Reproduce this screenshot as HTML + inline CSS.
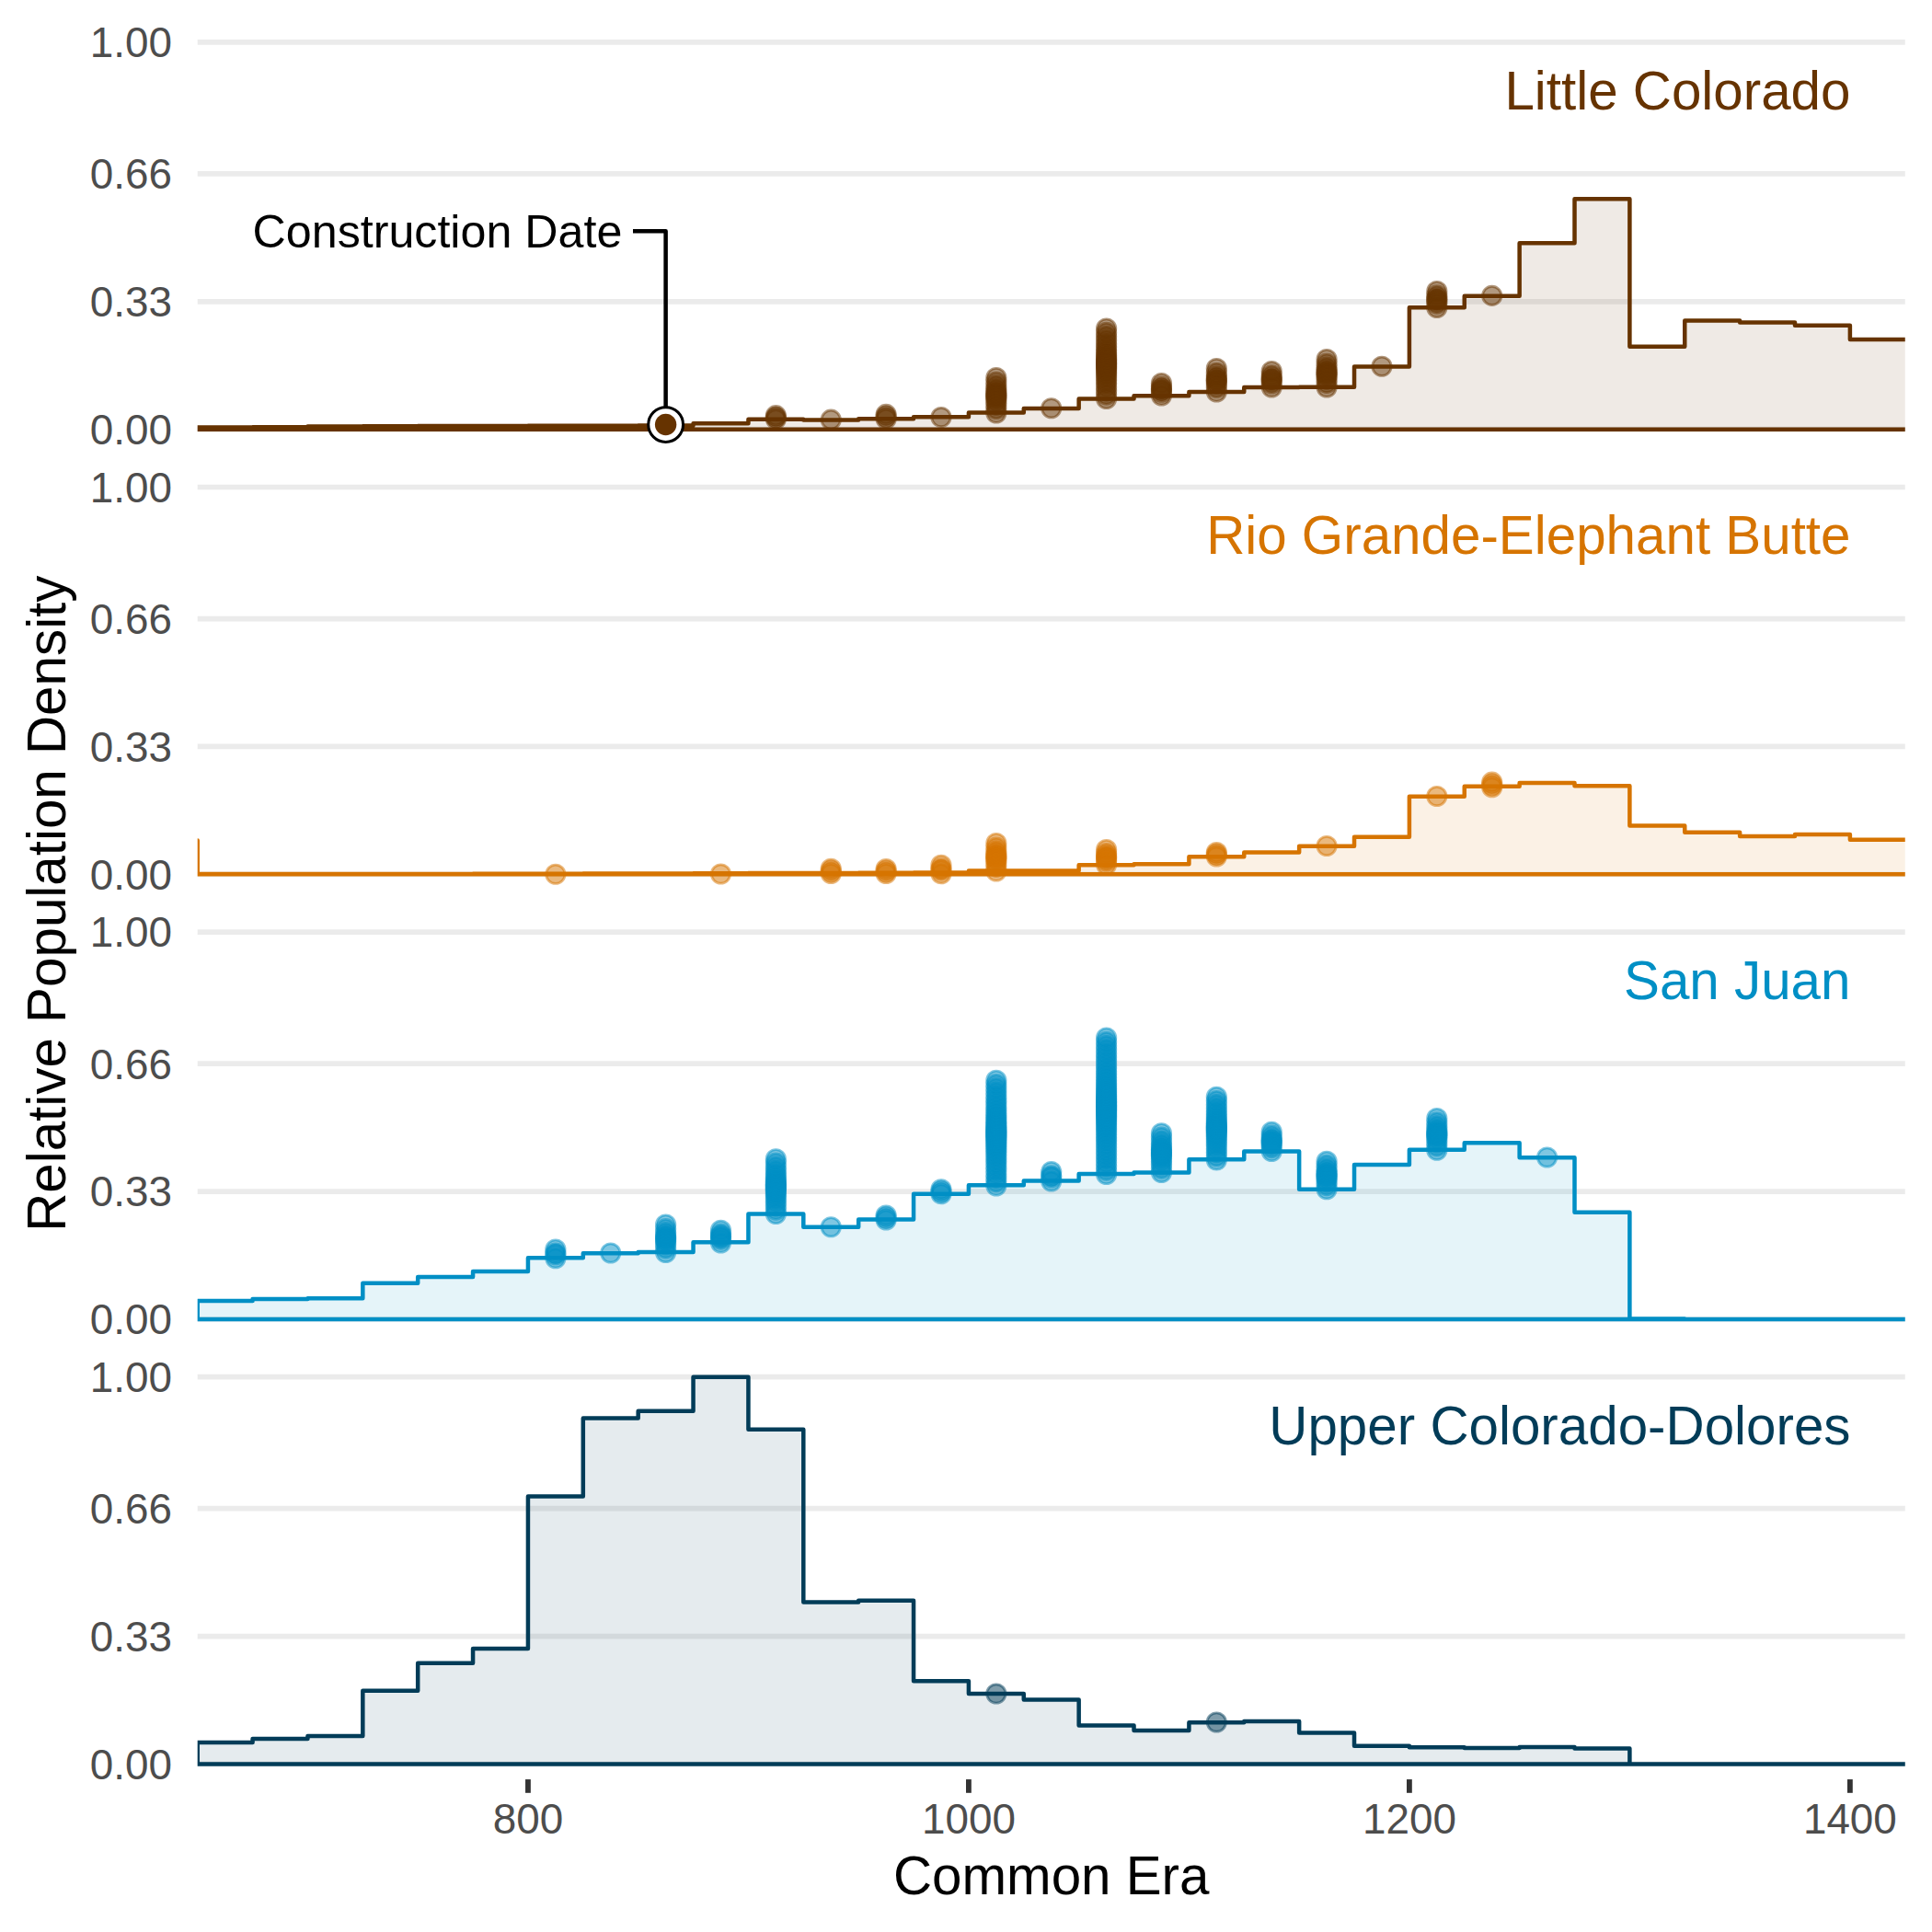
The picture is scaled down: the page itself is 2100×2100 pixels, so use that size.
<!DOCTYPE html>
<html lang="en"><head><meta charset="utf-8"><title>Relative Population Density</title>
<style>html,body{margin:0;padding:0;background:#fff}svg{display:block}text{font-family:"Liberation Sans", Arial, Helvetica, sans-serif}</style></head><body>
<svg width="2100" height="2100" viewBox="0 0 2100 2100">
<rect width="2100" height="2100" fill="#fff"/>
<defs><clipPath id="cp"><rect x="214.70" y="0" width="1856.05" height="2100"/></clipPath></defs>
<g>
<line x1="214.70" x2="2070.75" y1="45.90" y2="45.90" stroke="#EBEBEB" stroke-width="5.70"/>
<line x1="214.70" x2="2070.75" y1="188.97" y2="188.97" stroke="#EBEBEB" stroke-width="5.70"/>
<line x1="214.70" x2="2070.75" y1="327.84" y2="327.84" stroke="#EBEBEB" stroke-width="5.70"/>
<line x1="214.70" x2="2070.75" y1="466.70" y2="466.70" stroke="#EBEBEB" stroke-width="5.70"/>
<g fill="#663300" fill-opacity="0.5" stroke="#663300" stroke-opacity="0.5" stroke-width="2.90">
<circle cx="843.36" cy="451.70" r="10.15"/>
<circle cx="843.36" cy="453.65" r="10.15"/>
<circle cx="843.36" cy="455.60" r="10.15"/>
<circle cx="903.23" cy="456.20" r="10.15"/>
<circle cx="963.11" cy="450.40" r="10.15"/>
<circle cx="963.11" cy="452.80" r="10.15"/>
<circle cx="963.11" cy="455.20" r="10.15"/>
<circle cx="1022.98" cy="453.50" r="10.15"/>
<circle cx="1082.85" cy="410.50" r="10.15"/>
<circle cx="1082.85" cy="415.03" r="10.15"/>
<circle cx="1082.85" cy="419.20" r="10.15"/>
<circle cx="1082.85" cy="422.73" r="10.15"/>
<circle cx="1082.85" cy="425.50" r="10.15"/>
<circle cx="1082.85" cy="427.54" r="10.15"/>
<circle cx="1082.85" cy="429.08" r="10.15"/>
<circle cx="1082.85" cy="430.42" r="10.15"/>
<circle cx="1082.85" cy="431.96" r="10.15"/>
<circle cx="1082.85" cy="434.00" r="10.15"/>
<circle cx="1082.85" cy="436.77" r="10.15"/>
<circle cx="1082.85" cy="440.30" r="10.15"/>
<circle cx="1082.85" cy="444.47" r="10.15"/>
<circle cx="1082.85" cy="449.00" r="10.15"/>
<circle cx="1142.72" cy="443.75" r="10.15"/>
<circle cx="1202.60" cy="357.00" r="10.15"/>
<circle cx="1202.60" cy="361.38" r="10.15"/>
<circle cx="1202.60" cy="365.67" r="10.15"/>
<circle cx="1202.60" cy="369.80" r="10.15"/>
<circle cx="1202.60" cy="373.70" r="10.15"/>
<circle cx="1202.60" cy="377.32" r="10.15"/>
<circle cx="1202.60" cy="380.59" r="10.15"/>
<circle cx="1202.60" cy="383.52" r="10.15"/>
<circle cx="1202.60" cy="386.08" r="10.15"/>
<circle cx="1202.60" cy="388.30" r="10.15"/>
<circle cx="1202.60" cy="390.20" r="10.15"/>
<circle cx="1202.60" cy="391.85" r="10.15"/>
<circle cx="1202.60" cy="393.29" r="10.15"/>
<circle cx="1202.60" cy="394.61" r="10.15"/>
<circle cx="1202.60" cy="395.89" r="10.15"/>
<circle cx="1202.60" cy="397.21" r="10.15"/>
<circle cx="1202.60" cy="398.65" r="10.15"/>
<circle cx="1202.60" cy="400.30" r="10.15"/>
<circle cx="1202.60" cy="402.20" r="10.15"/>
<circle cx="1202.60" cy="404.42" r="10.15"/>
<circle cx="1202.60" cy="406.98" r="10.15"/>
<circle cx="1202.60" cy="409.91" r="10.15"/>
<circle cx="1202.60" cy="413.18" r="10.15"/>
<circle cx="1202.60" cy="416.80" r="10.15"/>
<circle cx="1202.60" cy="420.70" r="10.15"/>
<circle cx="1202.60" cy="424.83" r="10.15"/>
<circle cx="1202.60" cy="429.12" r="10.15"/>
<circle cx="1202.60" cy="433.50" r="10.15"/>
<circle cx="1262.47" cy="416.50" r="10.15"/>
<circle cx="1262.47" cy="420.32" r="10.15"/>
<circle cx="1262.47" cy="422.59" r="10.15"/>
<circle cx="1262.47" cy="423.91" r="10.15"/>
<circle cx="1262.47" cy="426.18" r="10.15"/>
<circle cx="1262.47" cy="430.00" r="10.15"/>
<circle cx="1322.34" cy="400.50" r="10.15"/>
<circle cx="1322.34" cy="405.27" r="10.15"/>
<circle cx="1322.34" cy="409.11" r="10.15"/>
<circle cx="1322.34" cy="411.64" r="10.15"/>
<circle cx="1322.34" cy="413.25" r="10.15"/>
<circle cx="1322.34" cy="414.86" r="10.15"/>
<circle cx="1322.34" cy="417.39" r="10.15"/>
<circle cx="1322.34" cy="421.23" r="10.15"/>
<circle cx="1322.34" cy="426.00" r="10.15"/>
<circle cx="1382.22" cy="403.50" r="10.15"/>
<circle cx="1382.22" cy="407.74" r="10.15"/>
<circle cx="1382.22" cy="410.66" r="10.15"/>
<circle cx="1382.22" cy="412.25" r="10.15"/>
<circle cx="1382.22" cy="413.84" r="10.15"/>
<circle cx="1382.22" cy="416.76" r="10.15"/>
<circle cx="1382.22" cy="421.00" r="10.15"/>
<circle cx="1442.09" cy="390.50" r="10.15"/>
<circle cx="1442.09" cy="395.12" r="10.15"/>
<circle cx="1442.09" cy="399.14" r="10.15"/>
<circle cx="1442.09" cy="402.19" r="10.15"/>
<circle cx="1442.09" cy="404.27" r="10.15"/>
<circle cx="1442.09" cy="405.75" r="10.15"/>
<circle cx="1442.09" cy="407.23" r="10.15"/>
<circle cx="1442.09" cy="409.31" r="10.15"/>
<circle cx="1442.09" cy="412.36" r="10.15"/>
<circle cx="1442.09" cy="416.38" r="10.15"/>
<circle cx="1442.09" cy="421.00" r="10.15"/>
<circle cx="1501.96" cy="398.25" r="10.15"/>
<circle cx="1561.83" cy="316.50" r="10.15"/>
<circle cx="1561.83" cy="320.86" r="10.15"/>
<circle cx="1561.83" cy="323.86" r="10.15"/>
<circle cx="1561.83" cy="325.50" r="10.15"/>
<circle cx="1561.83" cy="327.14" r="10.15"/>
<circle cx="1561.83" cy="330.14" r="10.15"/>
<circle cx="1561.83" cy="334.50" r="10.15"/>
<circle cx="1621.71" cy="321.40" r="10.15"/>
</g>
<path d="M214.70 466.70 L214.70 464.39 H274.57 L274.57 464.26 H334.45 L334.45 463.38 H394.32 L394.32 463.29 H454.19 L454.19 463.12 H514.06 L514.06 463.00 H573.94 L573.94 462.83 H633.81 L633.81 462.66 H693.68 L693.68 462.41 H753.55 L753.55 460.18 H813.43 L813.43 455.76 H873.30 L873.30 456.60 H933.17 L933.17 455.34 H993.04 L993.04 453.23 H1052.92 L1052.92 448.61 H1112.79 L1112.79 443.98 H1172.66 L1172.66 433.46 H1232.53 L1232.53 430.30 H1292.41 L1292.41 426.05 H1352.28 L1352.28 421.04 H1412.15 L1412.15 420.83 H1472.02 L1472.02 398.53 H1531.90 L1531.90 334.15 H1591.77 L1591.77 321.69 H1651.64 L1651.64 264.34 H1711.51 L1711.51 216.20 H1771.39 L1771.39 376.82 H1831.26 L1831.26 348.46 H1891.13 L1891.13 350.43 H1951.00 L1951.00 353.63 H2010.88 L2010.88 369.07 H2070.75 H2090.75 V466.70 Z" fill="#663300" fill-opacity="0.1" stroke="#663300" stroke-width="4.50" stroke-linejoin="round" clip-path="url(#cp)"/>
<text x="187" y="62.20" font-size="45.83" fill="#4D4D4D" text-anchor="end">1.00</text>
<text x="187" y="205.27" font-size="45.83" fill="#4D4D4D" text-anchor="end">0.66</text>
<text x="187" y="344.14" font-size="45.83" fill="#4D4D4D" text-anchor="end">0.33</text>
<text x="187" y="483.00" font-size="45.83" fill="#4D4D4D" text-anchor="end">0.00</text>
<text x="2011.5" y="118.75" font-size="58.33" fill="#663300" text-anchor="end">Little Colorado</text>
</g>
<g>
<line x1="214.70" x2="2070.75" y1="529.50" y2="529.50" stroke="#EBEBEB" stroke-width="5.70"/>
<line x1="214.70" x2="2070.75" y1="672.57" y2="672.57" stroke="#EBEBEB" stroke-width="5.70"/>
<line x1="214.70" x2="2070.75" y1="811.44" y2="811.44" stroke="#EBEBEB" stroke-width="5.70"/>
<line x1="214.70" x2="2070.75" y1="950.30" y2="950.30" stroke="#EBEBEB" stroke-width="5.70"/>
<g fill="#D67400" fill-opacity="0.5" stroke="#D67400" stroke-opacity="0.5" stroke-width="2.90">
<circle cx="603.87" cy="950.25" r="10.15"/>
<circle cx="783.49" cy="950.00" r="10.15"/>
<circle cx="903.23" cy="944.25" r="10.15"/>
<circle cx="903.23" cy="946.88" r="10.15"/>
<circle cx="903.23" cy="949.50" r="10.15"/>
<circle cx="963.11" cy="944.50" r="10.15"/>
<circle cx="963.11" cy="947.00" r="10.15"/>
<circle cx="963.11" cy="949.50" r="10.15"/>
<circle cx="1022.98" cy="940.25" r="10.15"/>
<circle cx="1022.98" cy="944.14" r="10.15"/>
<circle cx="1022.98" cy="945.86" r="10.15"/>
<circle cx="1022.98" cy="949.75" r="10.15"/>
<circle cx="1082.85" cy="916.50" r="10.15"/>
<circle cx="1082.85" cy="921.12" r="10.15"/>
<circle cx="1082.85" cy="925.14" r="10.15"/>
<circle cx="1082.85" cy="928.19" r="10.15"/>
<circle cx="1082.85" cy="930.27" r="10.15"/>
<circle cx="1082.85" cy="931.75" r="10.15"/>
<circle cx="1082.85" cy="933.23" r="10.15"/>
<circle cx="1082.85" cy="935.31" r="10.15"/>
<circle cx="1082.85" cy="938.36" r="10.15"/>
<circle cx="1082.85" cy="942.38" r="10.15"/>
<circle cx="1082.85" cy="947.00" r="10.15"/>
<circle cx="1202.60" cy="923.50" r="10.15"/>
<circle cx="1202.60" cy="927.50" r="10.15"/>
<circle cx="1202.60" cy="930.25" r="10.15"/>
<circle cx="1202.60" cy="931.75" r="10.15"/>
<circle cx="1202.60" cy="933.25" r="10.15"/>
<circle cx="1202.60" cy="936.00" r="10.15"/>
<circle cx="1202.60" cy="940.00" r="10.15"/>
<circle cx="1322.34" cy="926.50" r="10.15"/>
<circle cx="1322.34" cy="928.75" r="10.15"/>
<circle cx="1322.34" cy="931.00" r="10.15"/>
<circle cx="1442.09" cy="919.50" r="10.15"/>
<circle cx="1561.83" cy="865.50" r="10.15"/>
<circle cx="1621.71" cy="850.20" r="10.15"/>
<circle cx="1621.71" cy="852.95" r="10.15"/>
<circle cx="1621.71" cy="855.70" r="10.15"/>
</g>
<path d="M214.70 950.30 V913.61 V950.30 L214.70 950.09 H274.57 L274.57 950.09 H334.45 L334.45 949.88 H394.32 L394.32 949.88 H454.19 L454.19 949.88 H514.06 L514.06 949.67 H573.94 L573.94 949.67 H633.81 L633.81 949.46 H693.68 L693.68 949.46 H753.55 L753.55 949.25 H813.43 L813.43 949.04 H873.30 L873.30 949.04 H933.17 L933.17 948.83 H993.04 L993.04 948.62 H1052.92 L1052.92 946.51 H1112.79 L1112.79 946.51 H1172.66 L1172.66 940.28 H1232.53 L1232.53 939.36 H1292.41 L1292.41 931.36 H1352.28 L1352.28 926.57 H1412.15 L1412.15 919.79 H1472.02 L1472.02 909.82 H1531.90 L1531.90 865.85 H1591.77 L1591.77 854.78 H1651.64 L1651.64 851.12 H1711.51 L1711.51 854.36 H1771.39 L1771.39 897.41 H1831.26 L1831.26 904.69 H1891.13 L1891.13 908.98 H1951.00 L1951.00 907.08 H2010.88 L2010.88 912.72 H2070.75 H2090.75 V950.30 Z" fill="#D67400" fill-opacity="0.1" stroke="#D67400" stroke-width="4.50" stroke-linejoin="round" clip-path="url(#cp)"/>
<text x="187" y="545.80" font-size="45.83" fill="#4D4D4D" text-anchor="end">1.00</text>
<text x="187" y="688.87" font-size="45.83" fill="#4D4D4D" text-anchor="end">0.66</text>
<text x="187" y="827.74" font-size="45.83" fill="#4D4D4D" text-anchor="end">0.33</text>
<text x="187" y="966.60" font-size="45.83" fill="#4D4D4D" text-anchor="end">0.00</text>
<text x="2011.5" y="602.35" font-size="58.33" fill="#D67400" text-anchor="end">Rio Grande-Elephant Butte</text>
</g>
<g>
<line x1="214.70" x2="2070.75" y1="1013.15" y2="1013.15" stroke="#EBEBEB" stroke-width="5.70"/>
<line x1="214.70" x2="2070.75" y1="1156.22" y2="1156.22" stroke="#EBEBEB" stroke-width="5.70"/>
<line x1="214.70" x2="2070.75" y1="1295.09" y2="1295.09" stroke="#EBEBEB" stroke-width="5.70"/>
<line x1="214.70" x2="2070.75" y1="1433.95" y2="1433.95" stroke="#EBEBEB" stroke-width="5.70"/>
<g fill="#008FC5" fill-opacity="0.5" stroke="#008FC5" stroke-opacity="0.5" stroke-width="2.90">
<circle cx="603.87" cy="1358.00" r="10.15"/>
<circle cx="603.87" cy="1361.99" r="10.15"/>
<circle cx="603.87" cy="1363.76" r="10.15"/>
<circle cx="603.87" cy="1367.75" r="10.15"/>
<circle cx="663.74" cy="1362.00" r="10.15"/>
<circle cx="723.62" cy="1331.00" r="10.15"/>
<circle cx="723.62" cy="1335.62" r="10.15"/>
<circle cx="723.62" cy="1339.64" r="10.15"/>
<circle cx="723.62" cy="1342.69" r="10.15"/>
<circle cx="723.62" cy="1344.77" r="10.15"/>
<circle cx="723.62" cy="1346.25" r="10.15"/>
<circle cx="723.62" cy="1347.73" r="10.15"/>
<circle cx="723.62" cy="1349.81" r="10.15"/>
<circle cx="723.62" cy="1352.86" r="10.15"/>
<circle cx="723.62" cy="1356.88" r="10.15"/>
<circle cx="723.62" cy="1361.50" r="10.15"/>
<circle cx="783.49" cy="1337.25" r="10.15"/>
<circle cx="783.49" cy="1341.14" r="10.15"/>
<circle cx="783.49" cy="1343.46" r="10.15"/>
<circle cx="783.49" cy="1344.79" r="10.15"/>
<circle cx="783.49" cy="1347.11" r="10.15"/>
<circle cx="783.49" cy="1351.00" r="10.15"/>
<circle cx="843.36" cy="1259.75" r="10.15"/>
<circle cx="843.36" cy="1264.14" r="10.15"/>
<circle cx="843.36" cy="1268.39" r="10.15"/>
<circle cx="843.36" cy="1272.37" r="10.15"/>
<circle cx="843.36" cy="1276.00" r="10.15"/>
<circle cx="843.36" cy="1279.19" r="10.15"/>
<circle cx="843.36" cy="1281.92" r="10.15"/>
<circle cx="843.36" cy="1284.20" r="10.15"/>
<circle cx="843.36" cy="1286.07" r="10.15"/>
<circle cx="843.36" cy="1287.63" r="10.15"/>
<circle cx="843.36" cy="1288.98" r="10.15"/>
<circle cx="843.36" cy="1290.27" r="10.15"/>
<circle cx="843.36" cy="1291.62" r="10.15"/>
<circle cx="843.36" cy="1293.18" r="10.15"/>
<circle cx="843.36" cy="1295.05" r="10.15"/>
<circle cx="843.36" cy="1297.33" r="10.15"/>
<circle cx="843.36" cy="1300.06" r="10.15"/>
<circle cx="843.36" cy="1303.25" r="10.15"/>
<circle cx="843.36" cy="1306.88" r="10.15"/>
<circle cx="843.36" cy="1310.86" r="10.15"/>
<circle cx="843.36" cy="1315.11" r="10.15"/>
<circle cx="843.36" cy="1319.50" r="10.15"/>
<circle cx="903.23" cy="1333.75" r="10.15"/>
<circle cx="963.11" cy="1321.00" r="10.15"/>
<circle cx="963.11" cy="1323.50" r="10.15"/>
<circle cx="963.11" cy="1326.00" r="10.15"/>
<circle cx="1022.98" cy="1292.75" r="10.15"/>
<circle cx="1022.98" cy="1295.25" r="10.15"/>
<circle cx="1022.98" cy="1297.75" r="10.15"/>
<circle cx="1082.85" cy="1174.25" r="10.15"/>
<circle cx="1082.85" cy="1178.58" r="10.15"/>
<circle cx="1082.85" cy="1182.88" r="10.15"/>
<circle cx="1082.85" cy="1187.10" r="10.15"/>
<circle cx="1082.85" cy="1191.22" r="10.15"/>
<circle cx="1082.85" cy="1195.21" r="10.15"/>
<circle cx="1082.85" cy="1199.03" r="10.15"/>
<circle cx="1082.85" cy="1202.67" r="10.15"/>
<circle cx="1082.85" cy="1206.09" r="10.15"/>
<circle cx="1082.85" cy="1209.30" r="10.15"/>
<circle cx="1082.85" cy="1212.28" r="10.15"/>
<circle cx="1082.85" cy="1215.01" r="10.15"/>
<circle cx="1082.85" cy="1217.52" r="10.15"/>
<circle cx="1082.85" cy="1219.80" r="10.15"/>
<circle cx="1082.85" cy="1221.86" r="10.15"/>
<circle cx="1082.85" cy="1223.73" r="10.15"/>
<circle cx="1082.85" cy="1225.42" r="10.15"/>
<circle cx="1082.85" cy="1226.96" r="10.15"/>
<circle cx="1082.85" cy="1228.38" r="10.15"/>
<circle cx="1082.85" cy="1229.72" r="10.15"/>
<circle cx="1082.85" cy="1230.99" r="10.15"/>
<circle cx="1082.85" cy="1232.26" r="10.15"/>
<circle cx="1082.85" cy="1233.53" r="10.15"/>
<circle cx="1082.85" cy="1234.87" r="10.15"/>
<circle cx="1082.85" cy="1236.29" r="10.15"/>
<circle cx="1082.85" cy="1237.83" r="10.15"/>
<circle cx="1082.85" cy="1239.52" r="10.15"/>
<circle cx="1082.85" cy="1241.39" r="10.15"/>
<circle cx="1082.85" cy="1243.45" r="10.15"/>
<circle cx="1082.85" cy="1245.73" r="10.15"/>
<circle cx="1082.85" cy="1248.24" r="10.15"/>
<circle cx="1082.85" cy="1250.97" r="10.15"/>
<circle cx="1082.85" cy="1253.95" r="10.15"/>
<circle cx="1082.85" cy="1257.16" r="10.15"/>
<circle cx="1082.85" cy="1260.58" r="10.15"/>
<circle cx="1082.85" cy="1264.22" r="10.15"/>
<circle cx="1082.85" cy="1268.04" r="10.15"/>
<circle cx="1082.85" cy="1272.03" r="10.15"/>
<circle cx="1082.85" cy="1276.15" r="10.15"/>
<circle cx="1082.85" cy="1280.37" r="10.15"/>
<circle cx="1082.85" cy="1284.67" r="10.15"/>
<circle cx="1082.85" cy="1289.00" r="10.15"/>
<circle cx="1142.72" cy="1273.50" r="10.15"/>
<circle cx="1142.72" cy="1277.80" r="10.15"/>
<circle cx="1142.72" cy="1279.70" r="10.15"/>
<circle cx="1142.72" cy="1284.00" r="10.15"/>
<circle cx="1202.60" cy="1128.00" r="10.15"/>
<circle cx="1202.60" cy="1132.34" r="10.15"/>
<circle cx="1202.60" cy="1136.66" r="10.15"/>
<circle cx="1202.60" cy="1140.93" r="10.15"/>
<circle cx="1202.60" cy="1145.14" r="10.15"/>
<circle cx="1202.60" cy="1149.27" r="10.15"/>
<circle cx="1202.60" cy="1153.30" r="10.15"/>
<circle cx="1202.60" cy="1157.20" r="10.15"/>
<circle cx="1202.60" cy="1160.98" r="10.15"/>
<circle cx="1202.60" cy="1164.60" r="10.15"/>
<circle cx="1202.60" cy="1168.06" r="10.15"/>
<circle cx="1202.60" cy="1171.36" r="10.15"/>
<circle cx="1202.60" cy="1174.48" r="10.15"/>
<circle cx="1202.60" cy="1177.42" r="10.15"/>
<circle cx="1202.60" cy="1180.17" r="10.15"/>
<circle cx="1202.60" cy="1182.75" r="10.15"/>
<circle cx="1202.60" cy="1185.14" r="10.15"/>
<circle cx="1202.60" cy="1187.37" r="10.15"/>
<circle cx="1202.60" cy="1189.43" r="10.15"/>
<circle cx="1202.60" cy="1191.33" r="10.15"/>
<circle cx="1202.60" cy="1193.09" r="10.15"/>
<circle cx="1202.60" cy="1194.73" r="10.15"/>
<circle cx="1202.60" cy="1196.25" r="10.15"/>
<circle cx="1202.60" cy="1197.68" r="10.15"/>
<circle cx="1202.60" cy="1199.04" r="10.15"/>
<circle cx="1202.60" cy="1200.35" r="10.15"/>
<circle cx="1202.60" cy="1201.62" r="10.15"/>
<circle cx="1202.60" cy="1202.88" r="10.15"/>
<circle cx="1202.60" cy="1204.15" r="10.15"/>
<circle cx="1202.60" cy="1205.46" r="10.15"/>
<circle cx="1202.60" cy="1206.82" r="10.15"/>
<circle cx="1202.60" cy="1208.25" r="10.15"/>
<circle cx="1202.60" cy="1209.77" r="10.15"/>
<circle cx="1202.60" cy="1211.41" r="10.15"/>
<circle cx="1202.60" cy="1213.17" r="10.15"/>
<circle cx="1202.60" cy="1215.07" r="10.15"/>
<circle cx="1202.60" cy="1217.13" r="10.15"/>
<circle cx="1202.60" cy="1219.36" r="10.15"/>
<circle cx="1202.60" cy="1221.75" r="10.15"/>
<circle cx="1202.60" cy="1224.33" r="10.15"/>
<circle cx="1202.60" cy="1227.08" r="10.15"/>
<circle cx="1202.60" cy="1230.02" r="10.15"/>
<circle cx="1202.60" cy="1233.14" r="10.15"/>
<circle cx="1202.60" cy="1236.44" r="10.15"/>
<circle cx="1202.60" cy="1239.90" r="10.15"/>
<circle cx="1202.60" cy="1243.52" r="10.15"/>
<circle cx="1202.60" cy="1247.30" r="10.15"/>
<circle cx="1202.60" cy="1251.20" r="10.15"/>
<circle cx="1202.60" cy="1255.23" r="10.15"/>
<circle cx="1202.60" cy="1259.36" r="10.15"/>
<circle cx="1202.60" cy="1263.57" r="10.15"/>
<circle cx="1202.60" cy="1267.84" r="10.15"/>
<circle cx="1202.60" cy="1272.16" r="10.15"/>
<circle cx="1202.60" cy="1276.50" r="10.15"/>
<circle cx="1262.47" cy="1231.75" r="10.15"/>
<circle cx="1262.47" cy="1236.12" r="10.15"/>
<circle cx="1262.47" cy="1240.23" r="10.15"/>
<circle cx="1262.47" cy="1243.86" r="10.15"/>
<circle cx="1262.47" cy="1246.87" r="10.15"/>
<circle cx="1262.47" cy="1249.24" r="10.15"/>
<circle cx="1262.47" cy="1251.05" r="10.15"/>
<circle cx="1262.47" cy="1252.48" r="10.15"/>
<circle cx="1262.47" cy="1253.77" r="10.15"/>
<circle cx="1262.47" cy="1255.20" r="10.15"/>
<circle cx="1262.47" cy="1257.01" r="10.15"/>
<circle cx="1262.47" cy="1259.38" r="10.15"/>
<circle cx="1262.47" cy="1262.39" r="10.15"/>
<circle cx="1262.47" cy="1266.02" r="10.15"/>
<circle cx="1262.47" cy="1270.13" r="10.15"/>
<circle cx="1262.47" cy="1274.50" r="10.15"/>
<circle cx="1322.34" cy="1192.25" r="10.15"/>
<circle cx="1322.34" cy="1196.50" r="10.15"/>
<circle cx="1322.34" cy="1200.65" r="10.15"/>
<circle cx="1322.34" cy="1204.62" r="10.15"/>
<circle cx="1322.34" cy="1208.33" r="10.15"/>
<circle cx="1322.34" cy="1211.72" r="10.15"/>
<circle cx="1322.34" cy="1214.76" r="10.15"/>
<circle cx="1322.34" cy="1217.41" r="10.15"/>
<circle cx="1322.34" cy="1219.70" r="10.15"/>
<circle cx="1322.34" cy="1221.64" r="10.15"/>
<circle cx="1322.34" cy="1223.29" r="10.15"/>
<circle cx="1322.34" cy="1224.72" r="10.15"/>
<circle cx="1322.34" cy="1226.00" r="10.15"/>
<circle cx="1322.34" cy="1227.25" r="10.15"/>
<circle cx="1322.34" cy="1228.53" r="10.15"/>
<circle cx="1322.34" cy="1229.96" r="10.15"/>
<circle cx="1322.34" cy="1231.61" r="10.15"/>
<circle cx="1322.34" cy="1233.55" r="10.15"/>
<circle cx="1322.34" cy="1235.84" r="10.15"/>
<circle cx="1322.34" cy="1238.49" r="10.15"/>
<circle cx="1322.34" cy="1241.53" r="10.15"/>
<circle cx="1322.34" cy="1244.92" r="10.15"/>
<circle cx="1322.34" cy="1248.63" r="10.15"/>
<circle cx="1322.34" cy="1252.60" r="10.15"/>
<circle cx="1322.34" cy="1256.75" r="10.15"/>
<circle cx="1322.34" cy="1261.00" r="10.15"/>
<circle cx="1382.22" cy="1230.25" r="10.15"/>
<circle cx="1382.22" cy="1234.22" r="10.15"/>
<circle cx="1382.22" cy="1237.42" r="10.15"/>
<circle cx="1382.22" cy="1239.53" r="10.15"/>
<circle cx="1382.22" cy="1240.88" r="10.15"/>
<circle cx="1382.22" cy="1242.22" r="10.15"/>
<circle cx="1382.22" cy="1244.33" r="10.15"/>
<circle cx="1382.22" cy="1247.53" r="10.15"/>
<circle cx="1382.22" cy="1251.50" r="10.15"/>
<circle cx="1442.09" cy="1262.25" r="10.15"/>
<circle cx="1442.09" cy="1266.47" r="10.15"/>
<circle cx="1442.09" cy="1270.22" r="10.15"/>
<circle cx="1442.09" cy="1273.21" r="10.15"/>
<circle cx="1442.09" cy="1275.36" r="10.15"/>
<circle cx="1442.09" cy="1276.87" r="10.15"/>
<circle cx="1442.09" cy="1278.13" r="10.15"/>
<circle cx="1442.09" cy="1279.64" r="10.15"/>
<circle cx="1442.09" cy="1281.79" r="10.15"/>
<circle cx="1442.09" cy="1284.78" r="10.15"/>
<circle cx="1442.09" cy="1288.53" r="10.15"/>
<circle cx="1442.09" cy="1292.75" r="10.15"/>
<circle cx="1561.83" cy="1215.50" r="10.15"/>
<circle cx="1561.83" cy="1219.92" r="10.15"/>
<circle cx="1561.83" cy="1223.93" r="10.15"/>
<circle cx="1561.83" cy="1227.23" r="10.15"/>
<circle cx="1561.83" cy="1229.72" r="10.15"/>
<circle cx="1561.83" cy="1231.50" r="10.15"/>
<circle cx="1561.83" cy="1232.88" r="10.15"/>
<circle cx="1561.83" cy="1234.25" r="10.15"/>
<circle cx="1561.83" cy="1236.03" r="10.15"/>
<circle cx="1561.83" cy="1238.52" r="10.15"/>
<circle cx="1561.83" cy="1241.82" r="10.15"/>
<circle cx="1561.83" cy="1245.83" r="10.15"/>
<circle cx="1561.83" cy="1250.25" r="10.15"/>
<circle cx="1681.58" cy="1258.00" r="10.15"/>
</g>
<path d="M214.70 1433.95 L214.70 1414.09 H274.57 L274.57 1411.90 H334.45 L334.45 1411.23 H394.32 L394.32 1394.86 H454.19 L454.19 1388.08 H514.06 L514.06 1382.11 H573.94 L573.94 1367.34 H633.81 L633.81 1362.20 H693.68 L693.68 1361.11 H753.55 L753.55 1350.34 H813.43 L813.43 1319.62 H873.30 L873.30 1333.84 H933.17 L933.17 1325.59 H993.04 L993.04 1297.86 H1052.92 L1052.92 1288.23 H1112.79 L1112.79 1283.60 H1172.66 L1172.66 1276.11 H1232.53 L1232.53 1274.59 H1292.41 L1292.41 1260.37 H1352.28 L1352.28 1251.62 H1412.15 L1412.15 1292.86 H1472.02 L1472.02 1266.09 H1531.90 L1531.90 1249.72 H1591.77 L1591.77 1242.36 H1651.64 L1651.64 1258.35 H1711.51 L1711.51 1317.73 H1771.39 L1771.39 1433.53 H1831.26 L1831.26 1433.95 H1891.13 L1891.13 1433.95 H1951.00 L1951.00 1433.95 H2010.88 L2010.88 1433.95 H2070.75 H2090.75 V1433.95 Z" fill="#008FC5" fill-opacity="0.1" stroke="#008FC5" stroke-width="4.50" stroke-linejoin="round" clip-path="url(#cp)"/>
<text x="187" y="1029.45" font-size="45.83" fill="#4D4D4D" text-anchor="end">1.00</text>
<text x="187" y="1172.52" font-size="45.83" fill="#4D4D4D" text-anchor="end">0.66</text>
<text x="187" y="1311.39" font-size="45.83" fill="#4D4D4D" text-anchor="end">0.33</text>
<text x="187" y="1450.25" font-size="45.83" fill="#4D4D4D" text-anchor="end">0.00</text>
<text x="2011.5" y="1085.95" font-size="58.33" fill="#008FC5" text-anchor="end">San Juan</text>
</g>
<g>
<line x1="214.70" x2="2070.75" y1="1496.65" y2="1496.65" stroke="#EBEBEB" stroke-width="5.70"/>
<line x1="214.70" x2="2070.75" y1="1639.72" y2="1639.72" stroke="#EBEBEB" stroke-width="5.70"/>
<line x1="214.70" x2="2070.75" y1="1778.59" y2="1778.59" stroke="#EBEBEB" stroke-width="5.70"/>
<line x1="214.70" x2="2070.75" y1="1917.45" y2="1917.45" stroke="#EBEBEB" stroke-width="5.70"/>
<g fill="#023C58" fill-opacity="0.5" stroke="#023C58" stroke-opacity="0.5" stroke-width="2.90">
<circle cx="1082.85" cy="1841.00" r="10.15"/>
<circle cx="1322.34" cy="1872.00" r="10.15"/>
</g>
<path d="M214.70 1917.45 L214.70 1894.01 H274.57 L274.57 1889.89 H334.45 L334.45 1887.03 H394.32 L394.32 1837.71 H454.19 L454.19 1807.87 H514.06 L514.06 1791.93 H573.94 L573.94 1626.42 H633.81 L633.81 1541.51 H693.68 L693.68 1533.68 H753.55 L753.55 1496.65 H813.43 L813.43 1553.67 H873.30 L873.30 1741.51 H933.17 L933.17 1739.79 H993.04 L993.04 1827.31 H1052.92 L1052.92 1840.91 H1112.79 L1112.79 1847.60 H1172.66 L1172.66 1875.41 H1232.53 L1232.53 1880.92 H1292.41 L1292.41 1872.34 H1352.28 L1352.28 1871.08 H1412.15 L1412.15 1883.53 H1472.02 L1472.02 1897.71 H1531.90 L1531.90 1899.19 H1591.77 L1591.77 1900.07 H1651.64 L1651.64 1898.89 H1711.51 L1711.51 1900.62 H1771.39 L1771.39 1917.45 H1831.26 L1831.26 1917.45 H1891.13 L1891.13 1917.45 H1951.00 L1951.00 1917.45 H2010.88 L2010.88 1917.45 H2070.75 H2090.75 V1917.45 Z" fill="#023C58" fill-opacity="0.1" stroke="#023C58" stroke-width="4.50" stroke-linejoin="round" clip-path="url(#cp)"/>
<text x="187" y="1512.95" font-size="45.83" fill="#4D4D4D" text-anchor="end">1.00</text>
<text x="187" y="1656.02" font-size="45.83" fill="#4D4D4D" text-anchor="end">0.66</text>
<text x="187" y="1794.89" font-size="45.83" fill="#4D4D4D" text-anchor="end">0.33</text>
<text x="187" y="1933.75" font-size="45.83" fill="#4D4D4D" text-anchor="end">0.00</text>
<text x="2011.5" y="1569.55" font-size="58.33" fill="#023C58" text-anchor="end">Upper Colorado-Dolores</text>
</g>
<path d="M688 251.25 H723.62 V443.55" fill="none" stroke="#000" stroke-width="4.5" stroke-linejoin="round"/>
<circle cx="723.62" cy="461.55" r="18.9" fill="#fff" stroke="#000" stroke-width="3"/>
<circle cx="723.62" cy="461.55" r="11.7" fill="#663300"/>
<text x="676.3" y="268.9" font-size="50.2" fill="#000" text-anchor="end">Construction Date</text>
<line x1="573.94" x2="573.94" y1="1934.1" y2="1948.8" stroke="#333333" stroke-width="5.8"/>
<text x="573.94" y="1993" font-size="45.83" fill="#4D4D4D" text-anchor="middle">800</text>
<line x1="1052.92" x2="1052.92" y1="1934.1" y2="1948.8" stroke="#333333" stroke-width="5.8"/>
<text x="1052.92" y="1993" font-size="45.83" fill="#4D4D4D" text-anchor="middle">1000</text>
<line x1="1531.90" x2="1531.90" y1="1934.1" y2="1948.8" stroke="#333333" stroke-width="5.8"/>
<text x="1531.90" y="1993" font-size="45.83" fill="#4D4D4D" text-anchor="middle">1200</text>
<line x1="2010.88" x2="2010.88" y1="1934.1" y2="1948.8" stroke="#333333" stroke-width="5.8"/>
<text x="2010.88" y="1993" font-size="45.83" fill="#4D4D4D" text-anchor="middle">1400</text>
<text x="1142.7" y="2058.75" font-size="58.33" fill="#000" text-anchor="middle">Common Era</text>
<text transform="translate(71.1 982.2) rotate(-90)" font-size="58.33" fill="#000" text-anchor="middle">Relative Population Density</text>
</svg></body></html>
